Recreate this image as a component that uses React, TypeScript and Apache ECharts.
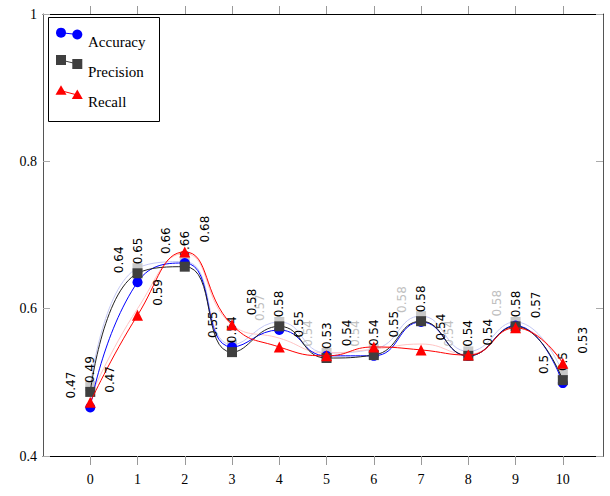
import React, { useEffect, useRef } from "react";
import * as echarts from "echarts";

const xValues = [0, 1, 2, 3, 4, 5, 6, 7, 8, 9, 10];
const accuracy = [0.466, 0.636, 0.662, 0.548, 0.571, 0.536, 0.536, 0.582, 0.536, 0.577, 0.499];
const precision = [0.487, 0.648, 0.657, 0.541, 0.576, 0.533, 0.537, 0.583, 0.536, 0.576, 0.503];
const recall = [0.473, 0.591, 0.677, 0.578, 0.548, 0.536, 0.548, 0.544, 0.537, 0.574, 0.526];
const precisionShadow = [0.495, 0.655, 0.664, 0.551, 0.582, 0.54, 0.545, 0.59, 0.542, 0.582, 0.513];
const recallShadow = [0.48, 0.6, 0.675, 0.578, 0.56, 0.54, 0.545, 0.552, 0.538, 0.575, 0.527];
const yTicks = [0.4, 0.6, 0.8, 1];
const fadedAccuracyLabels = [4, 5, 6, 7, 8, 9];
const legendNames = ["Accuracy", "Precision", "Recall"];

const BLUE = "#0000ff";
const DARK = "#3f3f3f";
const RED = "#ff0000";
const SERIF = "'Liberation Serif', 'DejaVu Serif', serif";

const pts = (vals: number[]) => xValues.map((x, i) => [x, vals[i]]);
const fmt = (p: any) => String(Math.round(p.value[1] * 100) / 100);

function labelCfg(dx: number) {
  return {
    show: true,
    position: "top",
    distance: 4,
    rotate: 90,
    align: "left",
    verticalAlign: "middle",
    offset: [0, dx],
    fontSize: 12,
    fontFamily: "'DejaVu Sans', sans-serif",
    color: "#000",
    formatter: fmt,
  };
}

function tri(cx: number, cy: number) {
  return [
    [cx, cy - 5.5],
    [cx - 5.5, cy + 4],
    [cx + 5.5, cy + 4],
  ];
}

export default function App() {
  const ref = useRef<HTMLDivElement>(null);
  useEffect(() => {
    if (!ref.current) return;
    const chart = echarts.init(ref.current, null, { renderer: "svg" });
    const legendY = [36, 62, 93];
    const option: any = {
      animation: false,
      backgroundColor: "#fff",
      grid: { left: 43, right: 7, top: 14, bottom: 40, containLabel: false },
      xAxis: [
        {
          type: "value",
          position: "bottom",
          min: -1,
          max: 10.85,
          axisLine: { show: true, onZero: false, lineStyle: { color: "#000", width: 1 } },
          axisTick: { show: true, inside: false, length: 9, customValues: xValues, lineStyle: { color: "#999" } },
          axisLabel: { show: true, customValues: xValues, fontFamily: SERIF, fontSize: 14, color: "#000", margin: 16 },
          splitLine: { show: false },
        },
        {
          type: "value",
          position: "top",
          min: -1,
          max: 10.85,
          axisLine: { show: true, onZero: false, lineStyle: { color: "#000", width: 1 } },
          axisTick: { show: true, inside: false, length: 8, customValues: xValues, lineStyle: { color: "#999" } },
          axisLabel: { show: false },
          splitLine: { show: false },
        },
      ],
      yAxis: [
        {
          type: "value",
          position: "left",
          min: 0.4,
          max: 1,
          interval: 0.2,
          axisLine: { show: true, onZero: false, lineStyle: { color: "#555", width: 1 } },
          axisTick: { show: true, inside: true, length: 7, lineStyle: { color: "#aaa" } },
          axisLabel: {
            show: true,
            fontFamily: SERIF,
            fontSize: 14,
            color: "#000",
            margin: 6,
            formatter: (v: number) => (yTicks.some((t) => Math.abs(t - v) < 1e-6) ? String(Math.round(v * 10) / 10) : ""),
          },
          splitLine: { show: false },
        },
        {
          type: "value",
          position: "right",
          min: 0.4,
          max: 1,
          interval: 0.2,
          axisLine: { show: true, onZero: false, lineStyle: { color: "#555", width: 1 } },
          axisTick: { show: true, inside: true, length: 7, lineStyle: { color: "#aaa" } },
          axisLabel: { show: false },
          splitLine: { show: false },
        },
      ],
      series: [
        {
          name: "PrecisionShadow",
          type: "line",
          smooth: 0.5,
          data: pts(precisionShadow),
          symbol: "rect",
          symbolSize: 10,
          itemStyle: { color: "#c8c8c8" },
          lineStyle: { color: "#c4c8f4", width: 1 },
          z: 1,
        },
        {
          name: "RecallShadow",
          type: "line",
          smooth: 0.5,
          data: pts(recallShadow),
          symbol: "none",
          lineStyle: { color: "#ffc4c4", width: 1 },
          z: 1,
        },
        {
          name: legendNames[0],
          type: "line",
          smooth: 0.5,
          data: xValues.map((x, i) => ({
            value: [x, accuracy[i]],
            label: { color: fadedAccuracyLabels.includes(i) ? "#c0c0c0" : "#000" },
          })),
          symbol: "circle",
          symbolSize: 10,
          itemStyle: { color: BLUE },
          lineStyle: { color: BLUE, width: 1 },
          label: labelCfg(-19),
          z: 2,
        },
        {
          name: legendNames[1],
          type: "line",
          smooth: 0.5,
          data: pts(precision),
          symbol: "rect",
          symbolSize: 10,
          itemStyle: { color: DARK },
          lineStyle: { color: "#222", width: 1 },
          label: labelCfg(0),
          z: 3,
        },
        {
          name: legendNames[2],
          type: "line",
          smooth: 0.5,
          data: pts(recall),
          symbol: "triangle",
          symbolSize: 11,
          itemStyle: { color: RED },
          lineStyle: { color: RED, width: 1 },
          label: labelCfg(20),
          z: 4,
        },
      ],
      graphic: [
        {
          type: "group",
          z: 100,
          children: [
            {
              type: "rect",
              shape: { x: 48.5, y: 17.5, width: 111, height: 104 },
              style: { fill: "#fff", stroke: "#000", lineWidth: 1 },
            },
            { type: "line", shape: { x1: 61, y1: 32.7, x2: 77.3, y2: 34.5 }, style: { stroke: BLUE, lineWidth: 1 } },
            { type: "circle", shape: { cx: 61, cy: 32.7, r: 5 }, style: { fill: BLUE } },
            { type: "circle", shape: { cx: 77.3, cy: 34.5, r: 5 }, style: { fill: BLUE } },
            { type: "line", shape: { x1: 61, y1: 60, x2: 77.3, y2: 64 }, style: { stroke: DARK, lineWidth: 1 } },
            { type: "rect", shape: { x: 56, y: 55, width: 10, height: 10 }, style: { fill: DARK } },
            { type: "rect", shape: { x: 72.3, y: 59, width: 10, height: 10 }, style: { fill: DARK } },
            { type: "line", shape: { x1: 61, y1: 90.7, x2: 77.3, y2: 95 }, style: { stroke: RED, lineWidth: 1 } },
            { type: "polygon", shape: { points: tri(61, 90.7) }, style: { fill: RED } },
            { type: "polygon", shape: { points: tri(77.3, 95) }, style: { fill: RED } },
            ...legendNames.map((n, i) => ({
              type: "text",
              x: 88,
              y: [42, 72, 102][i],
              style: { text: n, fontFamily: SERIF, fontSize: 15, fill: "#000", textVerticalAlign: "middle", verticalAlign: "middle" },
            })),
          ],
        },
      ],
    };
    chart.setOption(option);
    return () => chart.dispose();
  }, []);
  return <div ref={ref} style={{ width: 610, height: 496, position: "absolute", left: 0, top: 0 }} />;
}
